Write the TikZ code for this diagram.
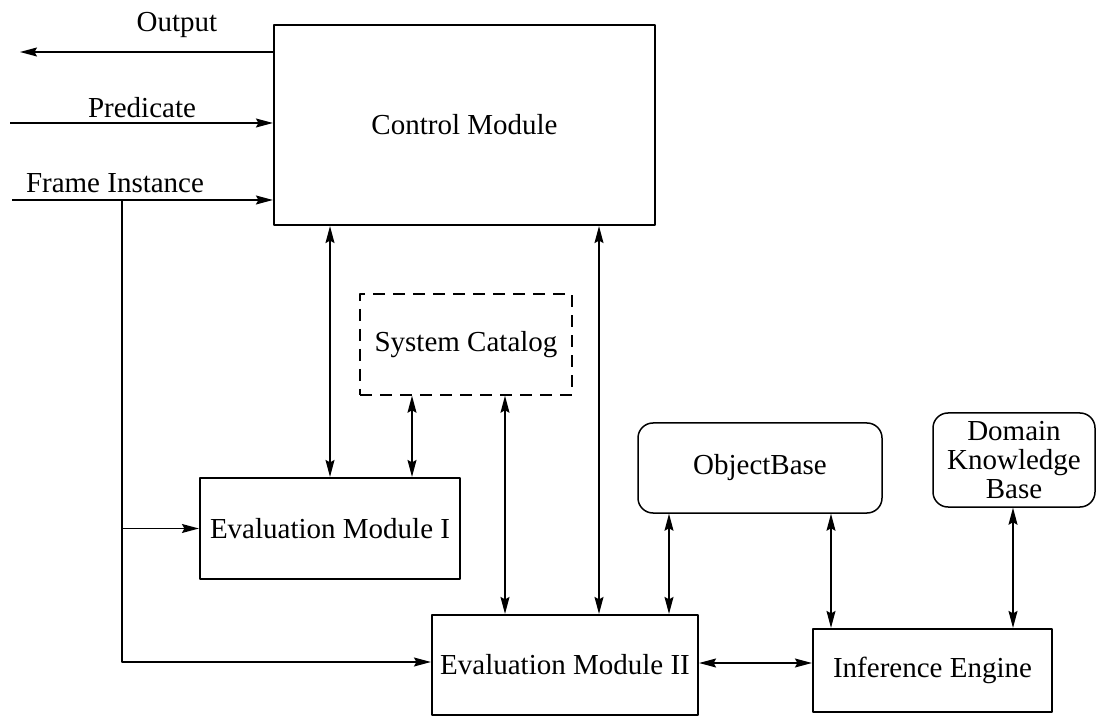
\documentclass[tikz,border=0pt]{standalone}
\usepackage{fontspec}
\setmainfont{Liberation Serif}
\usetikzlibrary{arrows.meta}
\begin{document}
\begin{tikzpicture}[line join=round, x=1pt, y=-1pt, font=\fontsize{29}{29}\selectfont]
        \tikzset{modul/.style={draw, line width=2.2pt, inner sep=0pt},
                basis/.style={draw, line width=1.5pt, rounded corners=15pt, inner sep=0pt, align=center},
                katalog/.style={draw, line width=1.5pt, dash pattern=on 12pt off 8pt},
                pfeil/.style={line width=1.3pt, -{Stealth[length=17pt, width=9pt, inset=2.5pt]}},
                dpfeil/.style={line width=1.3pt, {Stealth[length=17pt, width=9pt, inset=2.5pt]}-{Stealth[length=17pt, width=9pt, inset=2.5pt]}}}
        \useasboundingbox (0,0) rectangle (1096,719);
        \path
        (464.5,125) node[modul, minimum width=381, minimum height=200] (cm) {Control Module}
        (466,344.5) node[katalog, minimum width=212, minimum height=101] (sc) {System Catalog}
        (330,528.5) node[modul, minimum width=260, minimum height=101] (em1) {Evaluation Module I}
        (565,665) node[modul, minimum width=266, minimum height=100] (em2) {Evaluation Module II}
        (760,468) node[basis, minimum width=244, minimum height=90] (ob) {ObjectBase}
        (1014,460) node[basis, minimum width=162, minimum height=94] (dkb) {Domain\\Knowledge\\Base}
        (932.5,670.5) node[modul, minimum width=239, minimum height=83] (ie) {Inference Engine}
        ;
        % freie Enden und Knicke
        \path
        (20,52) coordinate (aus)
        (10,123) coordinate (pred)
        (12,200) coordinate (fi)
        (122,200) coordinate (knick)
        (122,662) coordinate (ecke)
        (412,0) coordinate (s1)
        (505,0) coordinate (s2)
        (599,0) coordinate (s3)
        (669,0) coordinate (s4)
        (831,0) coordinate (s5)
        (1013,0) coordinate (s6)
        (0,663) coordinate (h1)
        ;
        \node[anchor=base] (ausT) at (177,32) {Output};
        \node[anchor=base] (predT) at (142,118) {Predicate};
        \node[anchor=base] (fiT) at (115,193) {Frame Instance};
        \draw[pfeil] (cm.west |- aus) -- (aus);
        \draw[pfeil] (pred) -- (pred -| cm.west);
        \draw[pfeil] (fi) -- (fi -| cm.west);
        \draw[pfeil] (knick) -- (ecke) -- (ecke -| em2.west);
        \draw[pfeil] (knick |- em1.west) -- (em1.west);
        \draw[dpfeil] (cm.south -| em1.north) -- (em1.north);
        \draw[dpfeil] (sc.south -| s1) -- (em1.north -| s1);
        \draw[dpfeil] (sc.south -| s2) -- (em2.north -| s2);
        \draw[dpfeil] (cm.south -| s3) -- (em2.north -| s3);
        \draw[dpfeil] (ob.south -| s4) -- (em2.north -| s4);
        \draw[dpfeil] (ob.south -| s5) -- (ie.north -| s5);
        \draw[dpfeil] (dkb.south -| s6) -- (ie.north -| s6);
        \draw[dpfeil] (em2.east |- h1) -- (ie.west |- h1);
\end{tikzpicture}
\end{document}
